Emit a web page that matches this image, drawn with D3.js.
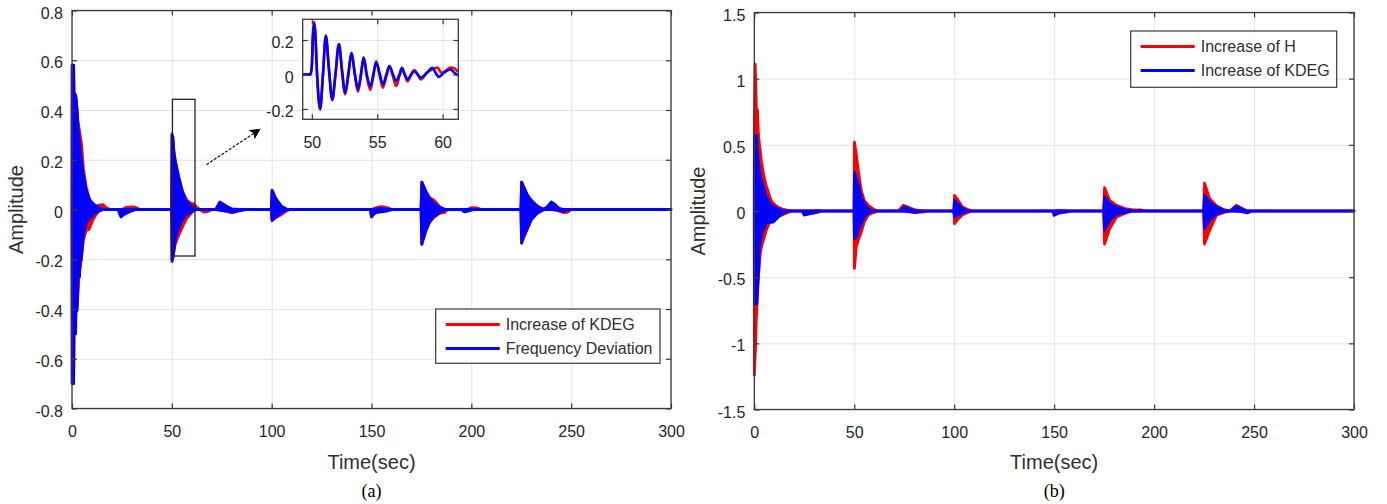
<!DOCTYPE html>
<html>
<head>
<meta charset="utf-8">
<script src="https://cdn.jsdelivr.net/npm/d3@7"></script>
<style>
  body { margin: 0; background: #fff; }
  svg { display: block; font-family: "Liberation Sans", Arial, sans-serif; }
  .tick text { fill: #262626; font-size: 16px; }
</style>
</head>
<body>
<svg id="chart" width="1387" height="504"></svg>
<script>
// ---- data ----
// envelopes of the fast oscillation: [time, upper, lower]
const kdegEnvA = [
  [0, 0, 0], [0.1, 0.58, -0.70], [0.8, 0.58, -0.70], [1.0, 0.47, -0.50], [2.0, 0.45, -0.41],
  [2.7, 0.37, -0.38], [3.5, 0.33, -0.27], [4.8, 0.26, -0.19], [5.7, 0.165, -0.125], [7.0, 0.095, -0.085],
  [8.5, 0.045, -0.08], [10, 0.022, -0.05], [12, 0.01, -0.02], [13.5, 0.018, -0.006], [15.5, 0.02, 0],
  [17, 0.008, 0], [19, 0, 0], [24, 0, 0], [25, 0, -0.025], [27, 0.008, -0.015], [30, 0.01, -0.004],
  [32, 0.008, 0], [34, 0, 0], [49.9, 0, 0], [50.1, 0.305, -0.21], [51, 0.24, -0.172], [51.5, 0.205, -0.145],
  [53, 0.14, -0.112], [55.6, 0.068, -0.065], [57.5, 0.038, -0.035], [60, 0.022, -0.012], [61, 0.024, -0.004],
  [62.5, 0.008, 0], [64, 0, 0], [66, 0, -0.01], [68, 0, -0.008], [70, 0, 0], [72, 0, 0], [74, 0.025, 0],
  [77, 0.012, -0.008], [80.6, 0, -0.013], [84, 0, -0.005], [87, 0, 0], [99.8, 0, 0], [100.2, 0.075, -0.045],
  [102, 0.045, -0.033], [105, 0.012, -0.02], [107, 0, -0.008], [109, 0, 0], [149.5, 0, 0], [150, 0, -0.028],
  [152, 0.007, -0.012], [155, 0.012, -0.005], [158, 0.008, 0], [160, 0, 0], [174.8, 0, 0], [175.2, 0.11, -0.14],
  [177.3, 0.073, -0.085], [179, 0.05, -0.053], [181.5, 0.036, -0.03], [184, 0.012, -0.016], [186.5, 0, -0.013],
  [188, 0, 0], [198, 0, 0], [200, 0.007, 0], [203, 0.006, 0], [205, 0, 0], [224.8, 0, 0], [225.2, 0.11, -0.135],
  [228, 0.057, -0.079], [230, 0.038, -0.043], [232, 0.022, -0.02], [234, 0.01, -0.01], [237, 0, 0],
  [240, 0.028, 0], [243, 0.01, -0.005], [246, 0, -0.012], [248, 0, -0.011], [250, 0, 0], [300, 0, 0]
];
const freqDevEnvA = [
  [0, 0, 0], [0.1, 0.58, -0.70], [0.8, 0.58, -0.70], [1.0, 0.47, -0.50], [1.8, 0.46, -0.50],
  [2.0, 0.45, -0.405], [2.6, 0.40, -0.405], [3.0, 0.33, -0.27], [3.8, 0.27, -0.27], [4.0, 0.24, -0.204],
  [4.6, 0.21, -0.204], [5.5, 0.15, -0.11], [7.0, 0.08, -0.055], [9.0, 0.037, -0.035], [11.5, 0.017, -0.014],
  [14, 0.005, -0.004], [16, 0, 0], [23, 0, 0], [24.5, 0, -0.03], [26, 0, -0.02], [29, 0, -0.008], [32, 0, 0],
  [49.9, 0, 0], [50.1, 0.30, -0.204], [50.6, 0.29, -0.19], [51, 0.23, -0.164], [52, 0.185, -0.11],
  [53.5, 0.13, -0.075], [55, 0.078, -0.045], [57, 0.037, -0.022], [60, 0.012, -0.008], [62, 0, 0],
  [72, 0, 0], [74, 0.03, -0.003], [77, 0.015, -0.005], [80, 0.002, -0.012], [84, 0, -0.004], [87, 0, 0],
  [99.8, 0, 0], [100.2, 0.078, -0.043], [102, 0.045, -0.03], [105, 0.012, -0.012], [108, 0, 0],
  [149.5, 0, 0], [150, 0, -0.03], [151.5, 0, -0.015], [154, 0.005, -0.01], [158, 0, -0.006], [161, 0, 0],
  [174.8, 0, 0], [175.2, 0.11, -0.14], [175.7, 0.10, -0.123], [177.3, 0.07, -0.083], [179, 0.045, -0.05],
  [180.7, 0.03, -0.03], [182.3, 0.018, -0.023], [184, 0.01, -0.012], [187, 0, 0], [195, 0, 0],
  [196.5, 0, -0.01], [199, 0, -0.006], [201, 0, 0], [224.8, 0, 0], [225.2, 0.11, -0.135],
  [225.7, 0.1, -0.115], [228, 0.06, -0.077], [230, 0.035, -0.04], [233, 0.012, -0.015], [236, 0, 0],
  [238, 0.01, 0], [240, 0.03, 0], [242, 0.02, 0], [244, 0, -0.004], [246, 0, -0.008], [249, 0, 0], [300, 0, 0]
];
const hEnvB = [
  [0, 0, 0], [0.05, 0.70, -1.24], [0.4, 1.11, -1.1], [0.7, 1.0, -1.0], [1.0, 0.78, -0.82], [1.6, 0.76, -0.65],
  [2.0, 0.6, -0.50], [2.5, 0.51, -0.42], [3.0, 0.45, -0.32], [3.5, 0.38, -0.28], [4.0, 0.33, -0.245],
  [5.0, 0.25, -0.2], [6.0, 0.19, -0.145], [7.0, 0.145, -0.11], [8.0, 0.095, -0.07], [9.0, 0.065, -0.06],
  [11, 0.038, -0.045], [12, 0.028, -0.04], [14, 0.015, -0.03], [17, 0.005, -0.01], [19, 0, 0], [24, 0, 0],
  [25, 0, -0.03], [28, 0, -0.02], [31, 0.005, -0.012], [34, 0, 0], [49.9, 0, 0], [50.1, 0.52, -0.434],
  [51, 0.43, -0.27], [52, 0.306, -0.22], [53.5, 0.156, -0.158], [55, 0.08, -0.083], [57, 0.043, -0.03],
  [60, 0.01, -0.01], [62, 0, 0], [72, 0, 0], [74.5, 0.043, 0], [77, 0.03, -0.005], [80, 0.01, -0.012],
  [84, 0, -0.008], [87, 0, 0], [99.8, 0, 0], [100.2, 0.118, -0.095], [102, 0.08, -0.06], [104, 0.033, -0.03],
  [107, 0.01, -0.01], [109, 0, 0], [149.5, 0, 0], [150, 0, -0.03], [153, 0.005, -0.015], [157, 0, -0.006],
  [159, 0, 0], [174.8, 0, 0], [175.2, 0.176, -0.25], [177.8, 0.08, -0.133], [181.2, 0.043, -0.045],
  [186, 0.015, -0.015], [189, 0.01, 0], [193, 0.008, 0], [196, 0, 0], [224.8, 0, 0], [225.2, 0.21, -0.25],
  [227.8, 0.093, -0.145], [231.2, 0.04, -0.032], [235, 0.01, -0.01], [238, 0, 0], [241, 0.043, 0],
  [244, 0.02, -0.005], [246.5, 0, -0.015], [249, 0, 0], [300, 0, 0]
];
const kdegEnvB = [
  [0, 0, 0], [0.05, 0.57, -0.70], [1.2, 0.57, -0.70], [1.5, 0.457, -0.6], [2.0, 0.38, -0.50],
  [2.5, 0.307, -0.27], [4.0, 0.206, -0.158], [6.0, 0.106, -0.09], [8.0, 0.055, -0.085], [9.5, 0.035, -0.083],
  [12, 0.015, -0.045], [15, 0, -0.01], [17, 0, 0], [24, 0, 0], [25, 0, -0.03], [28, 0, -0.02],
  [31, 0, -0.008], [33, 0, 0], [49.9, 0, 0], [50.1, 0.294, -0.208], [51, 0.244, -0.2], [52, 0.206, -0.145],
  [53.5, 0.106, -0.095], [55, 0.055, -0.045], [57, 0.02, -0.015], [59, 0, 0], [73, 0, 0], [75, 0.03, 0],
  [78, 0.015, -0.005], [81, 0, -0.01], [84, 0, 0], [99.8, 0, 0], [100.2, 0.08, -0.045], [102, 0.05, -0.03],
  [104, 0.02, -0.015], [107, 0, 0], [149.5, 0, 0], [150, 0, -0.032], [152, 0, -0.015], [156, 0, -0.005],
  [158, 0, 0], [174.8, 0, 0], [175.2, 0.106, -0.145], [177.8, 0.055, -0.07], [181.2, 0.03, -0.025],
  [186, 0.008, -0.008], [189, 0, 0], [224.8, 0, 0], [225.2, 0.118, -0.133], [227.8, 0.068, -0.07],
  [231.2, 0.03, -0.02], [235, 0.005, -0.005], [238, 0, 0], [241, 0.035, 0], [244, 0.015, -0.004],
  [246.5, 0, -0.012], [249, 0, 0], [300, 0, 0]
];
// inset of panel (a), t = 49.3 .. 61.2 s: [time, value]
const insetKdeg = [
  [49.3, 0], [49.9, 0], [50.0, 0.05], [50.08, 0.23], [50.17, 0.305], [50.25, 0.26], [50.4, 0], [50.63, -0.205],
  [50.85, 0], [51.07, 0.225], [51.3, 0.03], [51.56, -0.15], [51.8, -0.01], [52.07, 0.175], [52.3, 0.02],
  [52.55, -0.115], [52.8, 0], [53.03, 0.12], [53.3, -0.01], [53.53, -0.10], [53.75, -0.01], [53.96, 0.1],
  [54.2, -0.01], [54.47, -0.09], [54.7, -0.01], [54.92, 0.077], [55.2, -0.01], [55.43, -0.077], [55.7, -0.01],
  [55.93, 0.05], [56.2, -0.01], [56.44, -0.067], [56.7, -0.01], [56.89, 0.035], [57.1, 0], [57.32, -0.04],
  [57.6, 0], [57.83, 0.025], [58.1, 0], [58.33, -0.029], [58.8, 0.01], [59.2, 0.03], [59.6, 0.04],
  [59.9, 0.01], [60.2, 0.02], [60.6, 0.04], [60.9, 0.035], [61.2, 0.015]
];
const insetFreqDev = [
  [49.3, 0], [49.9, 0], [50.0, 0.05], [50.08, 0.22], [50.17, 0.295], [50.25, 0.25], [50.4, 0], [50.63, -0.198],
  [50.85, 0], [51.07, 0.225], [51.3, 0.04], [51.56, -0.144], [51.8, 0], [52.07, 0.177], [52.3, 0.03],
  [52.55, -0.106], [52.8, 0.01], [53.03, 0.125], [53.3, 0], [53.53, -0.086], [53.75, 0], [53.96, 0.096],
  [54.2, 0], [54.47, -0.071], [54.7, 0], [54.92, 0.071], [55.2, 0], [55.43, -0.058], [55.7, 0], [55.93, 0.048],
  [56.2, 0], [56.44, -0.038], [56.7, 0], [56.89, 0.038], [57.1, 0], [57.32, -0.029], [57.6, 0], [57.83, 0.019],
  [58.1, 0], [58.33, -0.019], [58.8, 0.01], [59.2, 0.038], [59.5, 0.005], [59.7, -0.015], [60.1, 0.01],
  [60.6, 0.029], [60.9, 0.01], [61.2, -0.006]
];

const TIME_TICKS = [0, 50, 100, 150, 200, 250, 300];
const AMP_TICKS_A = [-0.8, -0.6, -0.4, -0.2, 0, 0.2, 0.4, 0.6, 0.8];
const AMP_TICKS_B = [-1.5, -1, -0.5, 0, 0.5, 1, 1.5];
const INSET_X_TICKS = [50, 55, 60];
const INSET_Y_TICKS = [-0.2, 0, 0.2];
const LEGEND_A = ['Increase of KDEG', 'Frequency Deviation'];
const LEGEND_B = ['Increase of H', 'Increase of KDEG'];
const ZOOM_BOX = { t0: 50.3, t1: 61.6, v0: -0.187, v1: 0.443 };

// ---- styling ----
const RED = '#ff0000';
const BLUE = '#0000ff';
const AXIS_COLOR = '#3a3a3a';
const GRID_COLOR = '#e3e3e3';
const TEXT_COLOR = '#303030';
const TICK_LEN = 5;
const fmt = d => String(d);

const svg = d3.select('#chart');
svg.append('rect').attr('width', 1387).attr('height', 504).attr('fill', '#fff');

// draws one boxed MATLAB-style axes (background + grid); returns its scales
function drawAxes(g, box, xDomain, yDomain, xTicks, yTicks, labelGap) {
  const x = d3.scaleLinear().domain(xDomain).range([box.left, box.right]);
  const y = d3.scaleLinear().domain(yDomain).range([box.bottom, box.top]);
  const h = box.bottom - box.top;
  const w = box.right - box.left;

  g.append('rect')
  .attr('x', box.left).attr('y', box.top)
  .attr('width', w).attr('height', h)
  .attr('fill', '#fff');

  // grid
  g.append('g')
  .attr('transform', `translate(0,${box.bottom})`)
  .call(d3.axisBottom(x).tickValues(xTicks).tickSize(-h).tickFormat(''))
  .call(s => { s.select('.domain').remove(); s.selectAll('line').attr('stroke', GRID_COLOR); });
  g.append('g')
  .attr('transform', `translate(${box.left},0)`)
  .call(d3.axisLeft(y).tickValues(yTicks).tickSize(-w).tickFormat(''))
  .call(s => { s.select('.domain').remove(); s.selectAll('line').attr('stroke', GRID_COLOR); });

  return { x, y, box, xTicks, yTicks, labelGap };
}

// ticks + labels + box, drawn after the data so they stay on top
function finishAxes(g, ax) {
  const { x, y, box, xTicks, yTicks, labelGap } = ax;
  const style = s => {
    s.select('.domain').remove();
    s.selectAll('line').attr('stroke', AXIS_COLOR).attr('stroke-width', 1.2);
    s.selectAll('text').attr('fill', TEXT_COLOR);
  };
  g.append('g')
  .attr('transform', `translate(0,${box.bottom})`)
  .call(d3.axisBottom(x).tickValues(xTicks).tickSize(-TICK_LEN).tickPadding(labelGap.x).tickFormat(fmt))
  .call(style);
  g.append('g')
  .attr('transform', `translate(0,${box.top})`)
  .call(d3.axisTop(x).tickValues(xTicks).tickSize(-TICK_LEN).tickFormat(''))
  .call(style);
  g.append('g')
  .attr('transform', `translate(${box.left},0)`)
  .call(d3.axisLeft(y).tickValues(yTicks).tickSize(-TICK_LEN).tickPadding(labelGap.y).tickFormat(fmt))
  .call(style)
  .selectAll('text').attr('dy', '0.47em');
  g.append('g')
  .attr('transform', `translate(${box.right},0)`)
  .call(d3.axisRight(y).tickValues(yTicks).tickSize(-TICK_LEN).tickFormat(''))
  .call(style);

  g.append('rect')
  .attr('x', box.left).attr('y', box.top)
  .attr('width', box.right - box.left).attr('height', box.bottom - box.top)
  .attr('fill', 'none')
  .attr('stroke', AXIS_COLOR)
  .attr('stroke-width', 1.3);
}

function drawEnvelope(g, ax, data, color) {
  const area = d3.area()
  .x(d => ax.x(d[0]))
  .y0(d => ax.y(d[2]))
  .y1(d => ax.y(d[1]));
  g.append('path')
  .datum(data)
  .attr('d', area)
  .attr('fill', color)
  .attr('stroke', color)
  .attr('stroke-width', 2.8)
  .attr('stroke-linejoin', 'round');
}

function drawLegend(g, box, labels, colors) {
  g.append('rect')
  .attr('x', box.x).attr('y', box.y)
  .attr('width', box.w).attr('height', box.h)
  .attr('fill', '#fff')
  .attr('stroke', AXIS_COLOR)
  .attr('stroke-width', 1.2);
  labels.forEach((lab, i) => {
    const cy = box.y + 15.5 + i * 24;
    g.append('line')
    .attr('x1', box.x + 10).attr('x2', box.x + 64)
    .attr('y1', cy).attr('y2', cy)
    .attr('stroke', colors[i]).attr('stroke-width', 3);
    g.append('text')
    .attr('x', box.x + 70).attr('y', cy + 5.8)
    .attr('font-size', 16)
    .attr('fill', TEXT_COLOR)
    .text(lab);
  });
}

function axisTitles(g, ax, caption, ylabX) {
  const cx = (ax.box.left + ax.box.right) / 2;
  const cy = (ax.box.top + ax.box.bottom) / 2;
  g.append('text')
  .attr('x', cx).attr('y', 469)
  .attr('text-anchor', 'middle')
  .attr('font-size', 20)
  .attr('fill', TEXT_COLOR)
  .text('Time(sec)');
  g.append('text')
  .attr('transform', `translate(${ylabX},${cy}) rotate(-90)`)
  .attr('text-anchor', 'middle')
  .attr('font-size', 20)
  .attr('fill', TEXT_COLOR)
  .text('Amplitude');
  g.append('text')
  .attr('x', cx).attr('y', 497)
  .attr('text-anchor', 'middle')
  .attr('font-family', '"Liberation Serif", "Times New Roman", serif')
  .attr('font-size', 18)
  .attr('fill', '#000')
  .text(caption);
}

// ---- panel (a) ----
const gA = svg.append('g');
const axA = drawAxes(gA, { left: 72, right: 671, top: 10.5, bottom: 408.5 },
  [0, 300], [-0.8, 0.8], TIME_TICKS, AMP_TICKS_A, { x: 17.5, y: 9 });
drawEnvelope(gA, axA, kdegEnvA, RED);
drawEnvelope(gA, axA, freqDevEnvA, BLUE);

// zoom rectangle around the 50 s disturbance
gA.append('rect')
.attr('x', axA.x(ZOOM_BOX.t0))
.attr('y', axA.y(ZOOM_BOX.v1))
.attr('width', axA.x(ZOOM_BOX.t1) - axA.x(ZOOM_BOX.t0))
.attr('height', axA.y(ZOOM_BOX.v0) - axA.y(ZOOM_BOX.v1))
.attr('fill', 'none')
.attr('stroke', '#222')
.attr('stroke-width', 1.3);

// arrow to the inset
svg.append('defs').append('marker')
.attr('id', 'head')
.attr('viewBox', '0 0 10 10')
.attr('refX', 9).attr('refY', 5)
.attr('markerWidth', 13).attr('markerHeight', 11)
.attr('markerUnits', 'userSpaceOnUse')
.attr('orient', 'auto')
.append('path')
.attr('d', 'M0,0 L10,5 L0,10 L2.5,5 Z')
.attr('fill', '#000');
gA.append('line')
.attr('x1', axA.x(67.3)).attr('y1', axA.y(0.18))
.attr('x2', axA.x(94)).attr('y2', axA.y(0.322))
.attr('stroke', '#111')
.attr('stroke-width', 1.2)
.attr('stroke-dasharray', '3,1.5')
.attr('marker-end', 'url(#head)');

finishAxes(gA, axA);
drawLegend(gA, { x: 435.7, y: 309, w: 224.3, h: 54.3 }, LEGEND_A, [RED, BLUE]);
axisTitles(gA, axA, '(a)', 23);

// inset
const gI = svg.append('g');
const axI = drawAxes(gI, { left: 302.7, right: 458.3, top: 19.3, bottom: 119.3 },
  [49.3, 61.2], [-0.26, 0.32], INSET_X_TICKS, INSET_Y_TICKS, { x: 17, y: 9 });
const insetLine = d3.line()
.x(d => axI.x(d[0]))
.y(d => axI.y(d[1]))
.curve(d3.curveMonotoneX);
[[insetKdeg, RED], [insetFreqDev, BLUE]].forEach(([data, color]) => {
  gI.append('path')
  .datum(data)
  .attr('d', insetLine)
  .attr('fill', 'none')
  .attr('stroke', color)
  .attr('stroke-width', 2.6)
  .attr('stroke-linejoin', 'round');
});
finishAxes(gI, axI);

// ---- panel (b) ----
const gB = svg.append('g');
const axB = drawAxes(gB, { left: 754.3, right: 1354, top: 12.5, bottom: 409.5 },
  [0, 300], [-1.5, 1.5], TIME_TICKS, AMP_TICKS_B, { x: 17.5, y: 9 });
drawEnvelope(gB, axB, hEnvB, RED);
drawEnvelope(gB, axB, kdegEnvB, BLUE);
finishAxes(gB, axB);
drawLegend(gB, { x: 1130.7, y: 31, w: 206, h: 56.3 }, LEGEND_B, [RED, BLUE]);
axisTitles(gB, axB, '(b)', 705);
</script>
</body>
</html>
